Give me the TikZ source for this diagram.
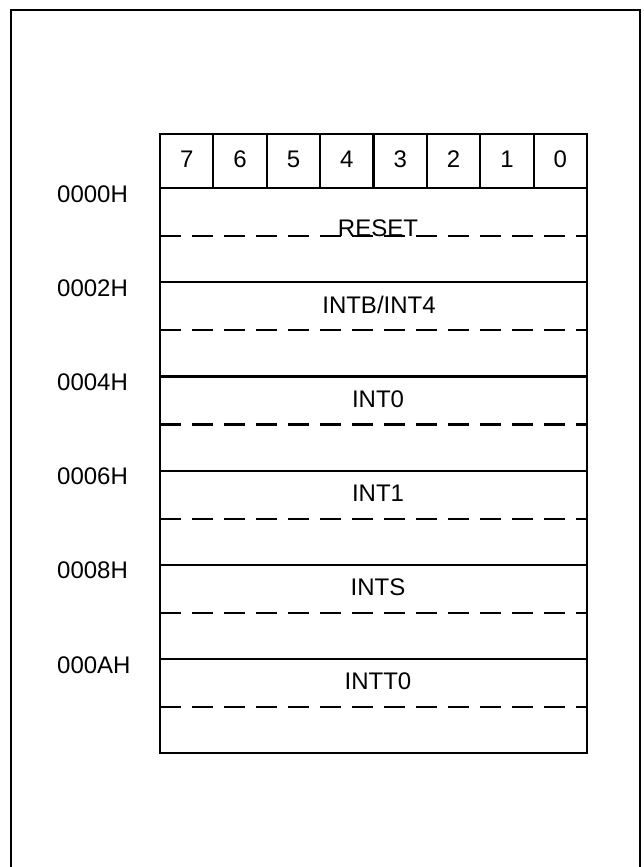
\documentclass[tikz,border=0pt]{standalone}
\usepackage{fontspec}
\setmainfont{Liberation Sans}
\begin{document}
\begin{tikzpicture}[x=1pt,y=-1pt,
  lbl/.style={font=\fontsize{24}{28}\selectfont, inner sep=0pt, anchor=base},
  addr/.style={font=\fontsize{24}{28}\selectfont, inner sep=0pt, anchor=base west},
  solidline/.style={line width=2.2pt},
  dashline/.style={line width=2.2pt, dash pattern=on 21pt off 11pt},
  frameline/.style={line width=2.8pt}]
\useasboundingbox (0,0) rectangle (644,867);
\clip (0,0) rectangle (644,867);
% outer frame (open at the bottom)
\draw[frameline] (11,870) -- (11,10) -- (640,10) -- (640,870);
% header of bit numbers
\foreach \b [count=\i from 0] in {7,6,5,4,3,2,1,0} {
  \node[lbl] (bit\b) at ({160+53.375*\i+26.69},167) {\b};
}
\foreach \i in {1,...,7} {
  \draw[solidline] ({160+53.375*\i},134) -- ({160+53.375*\i},188);
}
% rows
\foreach \a [count=\k from 0] in {0000H,0002H,0004H,0006H,0008H,000AH} {
  \pgfmathsetmacro{\yy}{188+94.2*\k}
  \draw[solidline] (160,\yy) -- (587,\yy);
  \draw[dashline] (160,\yy+48) -- (587,\yy+48);
  \node[addr] (addr\k) at (57,\yy+14) {\a};
}
\node[lbl] (v0) at (378,236) {RESET};
\node[lbl] (v1) at (379,282.2+31) {INTB/INT4};
\node[lbl] (v2) at (378,376.4+31) {INT0};
\node[lbl] (v3) at (378,470.6+31) {INT1};
\node[lbl] (v4) at (378,564.8+31) {INTS};
\node[lbl] (v5) at (378,659+30) {INTT0};
% table outline
\draw[solidline] (160,134) rectangle (587,753);
\end{tikzpicture}
\end{document}
